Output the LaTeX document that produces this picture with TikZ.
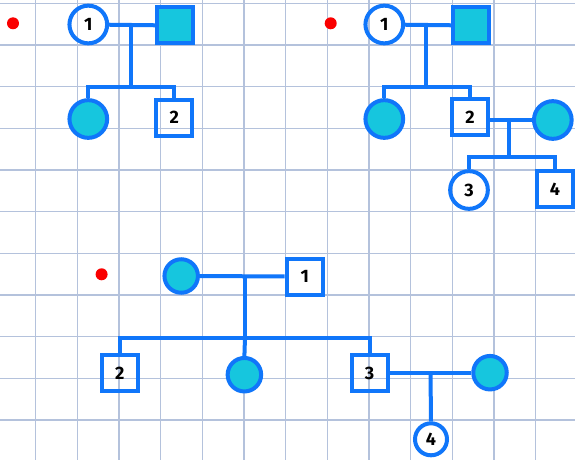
\documentclass[tikz,border=0pt]{standalone}
\usepackage{fontspec}
\setmainfont{Fira Sans}
\definecolor{pblue}{RGB}{16,118,250}
\definecolor{pcyan}{RGB}{22,198,222}
\definecolor{pgrid}{RGB}{180,194,220}
\definecolor{pred}{RGB}{250,0,0}
\tikzset{
  lnk/.style={draw=pblue, line width=4pt},
  fem/.style={circle, draw=pblue, line width=4pt, minimum size=37.7pt, inner sep=0pt, font=\bfseries\fontsize{18}{18}\selectfont},
  femS/.style={fem, minimum size=33.5pt},
  mal/.style={rectangle, draw=pblue, line width=4pt, minimum size=36pt, inner sep=0pt, font=\bfseries\fontsize{18}{18}\selectfont},
  aff/.style={fill=pcyan},
  rdot/.style={circle, fill=pred, minimum size=12pt, inner sep=0pt},
}
\begin{document}
\begin{tikzpicture}[x=1pt, y=-1pt]
\useasboundingbox (0,0) rectangle (575,460);
\fill[white] (0,0) rectangle (575,460);
% grid
\foreach \k in {0,...,12} \draw[pgrid, line width=1.5pt] ({35.7+41.67*\k},0) -- ({35.7+41.67*\k},460);
\foreach \k in {0,...,10} \draw[pgrid, line width=1.5pt] (0,{3.3+41.67*\k}) -- (575,{3.3+41.67*\k});
% red dots
\node[rdot] (d1) at (13,23.3) {};
\node[rdot] (d2) at (330.7,23.3) {};
\node[rdot] (d3) at (101.6,274.3) {};

% ---- top-left pedigree
\node[fem] (a1) at (88.3,24.5) {1};
\node[mal, aff] (a2) at (175,25.5) {};
\node[fem, aff] (a3) at (88.3,119) {};
\node[mal] (a4) at (174.3,117.5) {2};
\coordinate (am) at (131,24.5);
\coordinate (as) at (131,87.3);
\draw[lnk] (a1) -- (a2);
\draw[lnk] (am) -- (as);
\draw[lnk] (a3.north) |- (as) -| (a4.north);

% ---- top-right pedigree
\node[fem] (b1) at (384.3,24.5) {1};
\node[mal, aff] (b2) at (471.3,25.5) {};
\node[fem, aff] (b3) at (384.3,119) {};
\node[mal] (b4) at (470,117) {2};
\node[fem, aff] (b5) at (552.8,120) {};
\node[fem] (b6) at (469,190) {3};
\node[mal] (b7) at (555,189) {4};
\coordinate (bm) at (426,24.5);
\coordinate (bs) at (426,87.3);
\coordinate (bm2) at (509.3,120);
\coordinate (bs2) at (509.3,156.7);
\draw[lnk] (b1) -- (b2);
\draw[lnk] (bm) -- (bs);
\draw[lnk] (b3.north) |- (bs) -| (b4.north);
\draw[lnk] (b4.east |- bm2) -- (b5.west |- bm2);
\draw[lnk] (bm2) -- (bs2);
\draw[lnk] (b6.north) |- (bs2) -| (b7.north);

% ---- bottom pedigree
\node[femS, aff] (c1) at (181.2,276) {};
\node[mal] (c2) at (304.7,276.5) {1};
\node[mal] (c3) at (119.9,373) {2};
\node[femS, aff] (c4) at (244.4,374.7) {};
\node[mal] (c5) at (369.5,373) {3};
\node[femS, aff] (c6) at (490,372.7) {};
\node[fem, minimum size=32pt] (c7) at (431,439.3) {4};
\coordinate (cm) at (245,276);
\coordinate (cs) at (245,337.7);
\coordinate (cm2) at (430.5,372.7);
\draw[lnk] (c1) -- (c2);
\draw[lnk] (cm) -- (cs);
\draw[lnk] (c3.north) |- (cs) -| (c5.north);
\draw[lnk] (cs) -- (c4.north);
\draw[lnk] (c5.east |- cm2) -- (c6.west |- cm2);
\draw[lnk] (cm2) -- (c7.north);
\end{tikzpicture}
\end{document}
